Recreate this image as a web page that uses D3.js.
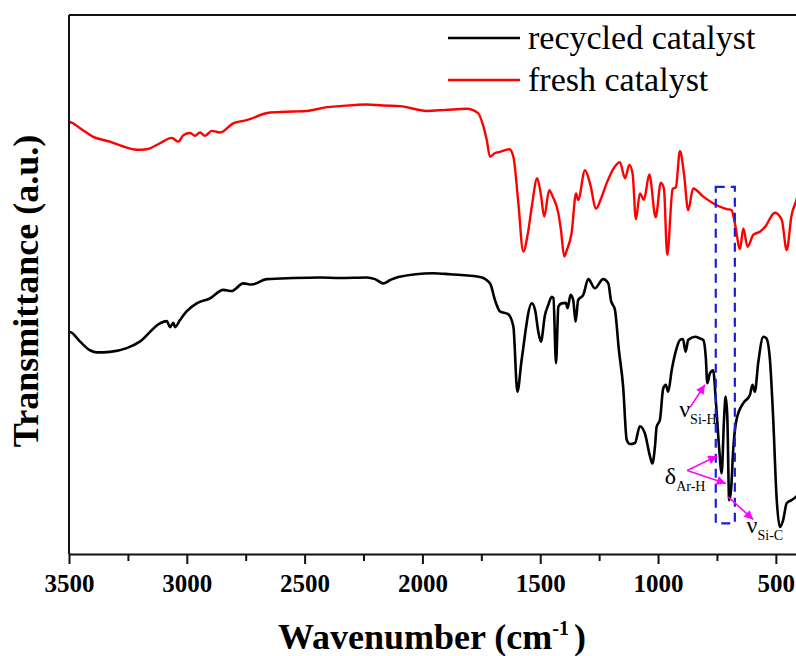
<!DOCTYPE html>
<html>
<head>
<meta charset="utf-8">
<script src="https://cdn.jsdelivr.net/npm/d3@7"></script>
<style>
  body { margin: 0; background: #fff; }
  svg text { font-family: "Liberation Serif", "Times New Roman", serif; }
</style>
</head>
<body>
<div id="chart"></div>
<script>
// wavenumber (cm-1), transmittance (a.u.)
var fresh = [
  [3500, 80.0], [3496, 80.1], [3453, 79.0], [3397, 77.4], [3326, 76.5], [3270, 75.6],
  [3213, 75.0], [3170, 75.1], [3114, 76.2], [3064, 77.2], [3036, 76.5], [3015, 77.7],
  [2986, 78.1], [2965, 77.6], [2944, 78.2], [2923, 77.6], [2894, 78.5], [2859, 78.2],
  [2803, 79.9], [2746, 80.5], [2647, 81.9], [2548, 82.1], [2491, 82.2], [2406, 82.9],
  [2350, 83.1], [2237, 83.4], [2167, 83.2], [2095, 83.1], [1982, 82.2], [1900, 82.4],
  [1812, 82.6], [1764, 81.8], [1743, 79.6], [1727, 76.8], [1713, 73.7], [1692, 74.4],
  [1671, 74.6], [1631, 75.1], [1614, 73.7], [1594, 65.7], [1572, 56.1], [1552, 59.6],
  [1535, 64.7], [1513, 69.7], [1497, 66.6], [1483, 62.6], [1462, 67.5], [1446, 66.2],
  [1423, 63.2], [1412, 60.1], [1398, 55.2], [1387, 56.4], [1367, 59.5], [1348, 66.9],
  [1339, 65.7], [1310, 71.2], [1289, 68.8], [1263, 64.1], [1239, 66.3], [1218, 68.8],
  [1183, 71.9], [1162, 72.7], [1140, 69.7], [1122, 72.2], [1108, 70.6], [1094, 62.1],
  [1077, 66.9], [1060, 65.7], [1037, 70.4], [1010, 62.5], [988, 68.9], [975, 67.8],
  [961, 55.5], [938, 67.7], [924, 68.1], [907, 74.8], [890, 70.6], [872, 63.8],
  [851, 67.8], [808, 66.3], [751, 64.7], [709, 64.0], [688, 63.8], [674, 61.4],
  [652, 56.6], [638, 60.4], [620, 57.0], [596, 59.2], [568, 59.8], [546, 60.7],
  [504, 63.3], [475, 62.0], [454, 56.4], [433, 62.9], [415, 65.4], [400, 67.5]
];

var recycled = [
  [3500, 41.2], [3496, 41.2], [3453, 39.4], [3411, 37.8], [3382, 37.4], [3326, 37.5],
  [3255, 38.2], [3199, 39.4], [3114, 42.8], [3085, 43.2], [3071, 42.1], [3057, 42.9],
  [3050, 42.1], [3029, 43.4], [3001, 45.0], [2958, 46.5], [2902, 47.4], [2845, 49.0],
  [2810, 48.8], [2760, 50.2], [2725, 50.0], [2661, 51.0], [2548, 51.2], [2435, 51.3],
  [2350, 51.2], [2237, 51.3], [2201, 51.0], [2166, 50.2], [2138, 50.8], [2102, 51.4],
  [1955, 52.1], [1883, 51.9], [1756, 51.4], [1713, 50.2], [1692, 47.1], [1671, 45.0],
  [1636, 44.5], [1614, 42.2], [1597, 30.1], [1579, 36.0], [1536, 46.5], [1522, 45.3],
  [1508, 41.2], [1497, 39.4], [1480, 44.3], [1466, 46.2], [1451, 47.7], [1444, 47.5],
  [1433, 35.4], [1423, 45.9], [1409, 46.5], [1391, 46.6], [1384, 45.6], [1371, 48.1],
  [1360, 47.1], [1350, 43.1], [1339, 47.1], [1317, 48.1], [1296, 51.0], [1268, 49.3],
  [1233, 51.0], [1211, 50.2], [1200, 47.1], [1183, 45.3], [1166, 37.8], [1148, 31.0],
  [1133, 21.2], [1119, 20.4], [1098, 20.6], [1077, 23.7], [1056, 22.4], [1034, 18.1],
  [1024, 16.8], [1013, 19.9], [1006, 23.6], [992, 24.9], [978, 30.7], [967, 31.4],
  [957, 30.1], [942, 34.1], [921, 38.2], [907, 39.7], [894, 39.9], [883, 37.5],
  [872, 39.7], [843, 40.3], [822, 40.0], [808, 39.7], [797, 36.3], [791, 31.7],
  [780, 33.5], [766, 34.1], [754, 28.0], [740, 19.3], [730, 15.0], [720, 24.9],
  [713, 29.2], [706, 25.5], [698, 10.0], [690, 11.9], [681, 19.3], [667, 24.9],
  [638, 28.0], [610, 29.5], [599, 31.4], [589, 30.1], [575, 35.4], [553, 40.3],
  [540, 40.0], [525, 36.0], [511, 24.9], [497, 10.6], [483, 5.0], [469, 6.3],
  [454, 9.4], [433, 10.0], [415, 10.6], [400, 11.3]
];

var majorTicks = [3500, 3000, 2500, 2000, 1500, 1000, 500];
var minorTicks = [3250, 2750, 2250, 1750, 1250, 750];

var seriesNames = ["recycled catalyst", "fresh catalyst"];
var seriesColors = ["#000000", "#ff0000"];

var serif = "'Liberation Serif', 'Times New Roman', serif";
var width = 796, height = 656;

var svg = d3.select("#chart").append("svg")
  .attr("width", width)
  .attr("height", height);

var x = d3.scaleLinear().domain([3500, 400]).range([69, 799.4]);
var y = d3.scaleLinear().domain([0, 100]).range([554, 15]);

svg.append("clipPath").attr("id", "plot-clip")
  .append("rect")
  .attr("x", x(3500)).attr("y", y(100))
  .attr("width", x(400) - x(3500)).attr("height", y(0) - y(100));

var line = d3.line()
  .x(function (d) { return x(d[0]); })
  .y(function (d) { return y(d[1]); })
  .curve(d3.curveMonotoneX);

var g = svg.append("g").attr("clip-path", "url(#plot-clip)");

g.append("path").datum(fresh)
  .attr("fill", "none").attr("stroke", seriesColors[1])
  .attr("stroke-width", 2.4).attr("stroke-linejoin", "round")
  .attr("d", line);

g.append("path").datum(recycled)
  .attr("fill", "none").attr("stroke", seriesColors[0])
  .attr("stroke-width", 2.6).attr("stroke-linejoin", "round")
  .attr("d", line);

// dashed box round the Ar-H bands
svg.append("rect")
  .attr("x", x(755)).attr("y", y(68.1))
  .attr("width", x(674) - x(755)).attr("height", y(5.7) - y(68.1))
  .attr("fill", "none").attr("stroke", "#1c1cdc")
  .attr("stroke-width", 2.2).attr("stroke-dasharray", "9,6");

// frame
svg.append("line")
  .attr("x1", x(3500)).attr("x2", x(400)).attr("y1", y(100)).attr("y2", y(100))
  .attr("stroke", "#111").attr("stroke-width", 2);
svg.append("line")
  .attr("x1", x(3500)).attr("x2", x(3500)).attr("y1", y(100)).attr("y2", y(0))
  .attr("stroke", "#111").attr("stroke-width", 2);
svg.append("line")
  .attr("x1", x(400)).attr("x2", x(400)).attr("y1", y(100)).attr("y2", y(0))
  .attr("stroke", "#111").attr("stroke-width", 2);

// x axis
var xAxis = svg.append("g")
  .attr("transform", "translate(0," + y(0) + ")")
  .call(d3.axisBottom(x).tickValues(majorTicks).tickSize(10).tickSizeOuter(0)
    .tickPadding(10).tickFormat(d3.format("d")))
  .attr("font-family", serif);
xAxis.select(".domain").attr("stroke", "#111").attr("stroke-width", 2);
xAxis.selectAll(".tick line").attr("stroke", "#111").attr("stroke-width", 2);
xAxis.selectAll(".tick text")
  .style("font-family", serif)
  .style("font-size", "25px").style("font-weight", "bold").attr("fill", "#000");

var xMinor = svg.append("g")
  .attr("transform", "translate(0," + y(0) + ")")
  .call(d3.axisBottom(x).tickValues(minorTicks).tickSize(7).tickFormat(""));
xMinor.select(".domain").remove();
xMinor.selectAll(".tick line").attr("stroke", "#111").attr("stroke-width", 2);

// axis titles
var xt = svg.append("text")
  .attr("x", 278).attr("y", 649)
  .style("font-size", "36px").style("font-weight", "bold");
xt.append("tspan").text("Wavenumber (cm");
xt.append("tspan").attr("dy", -14).style("font-size", "20px").text("-1");
xt.append("tspan").attr("dy", 14).attr("dx", 5).text(")");

svg.append("text")
  .attr("transform", "translate(38,291) rotate(-90)")
  .attr("text-anchor", "middle")
  .style("font-size", "36px").style("font-weight", "bold")
  .text("Transmittance (a.u.)");

// legend
seriesNames.forEach(function (name, i) {
  var ly = 38 + i * 42;
  svg.append("line")
    .attr("x1", 448).attr("x2", 520).attr("y1", ly).attr("y2", ly)
    .attr("stroke", seriesColors[i]).attr("stroke-width", 2.4);
  svg.append("text")
    .attr("x", 528).attr("y", ly + 11)
    .style("font-size", "34px")
    .text(name);
});

// band assignments
svg.append("defs").append("marker")
  .attr("id", "arrow").attr("viewBox", "0 0 10 10")
  .attr("refX", 10).attr("refY", 5)
  .attr("markerWidth", 11).attr("markerHeight", 9)
  .attr("markerUnits", "userSpaceOnUse")
  .attr("orient", "auto")
  .append("path").attr("d", "M0,0 L10,5 L0,10 Z").attr("fill", "#ff00ff");

var arrows = [
  [[864, 27.2], [801, 31.4]],
  [[876, 15.5], [749, 18.2]],
  [[876, 15.5], [712, 13.1]],
  [[702, 10.6], [596, 6.4]]
];
arrows.forEach(function (a) {
  svg.append("line")
    .attr("x1", x(a[0][0])).attr("y1", y(a[0][1]))
    .attr("x2", x(a[1][0])).attr("y2", y(a[1][1]))
    .attr("stroke", "#ff00ff").attr("stroke-width", 1.6)
    .attr("marker-end", "url(#arrow)");
});

var bandLabels = [
  { wn: 910, t: 25.4, sym: "\u03bd", sub: "Si-H" },
  { wn: 971, t: 13.0, sym: "\u03b4", sub: "Ar-H" },
  { wn: 624, t: 3.9, sym: "\u03bd", sub: "Si-C" }
];
bandLabels.forEach(function (b) {
  var t = svg.append("text")
    .attr("x", x(b.wn)).attr("y", y(b.t))
    .style("font-size", "24px");
  t.append("tspan").text(b.sym);
  t.append("tspan").attr("dy", 7).attr("dx", 0).style("font-size", "14px").text(b.sub);
});
</script>
</body>
</html>
